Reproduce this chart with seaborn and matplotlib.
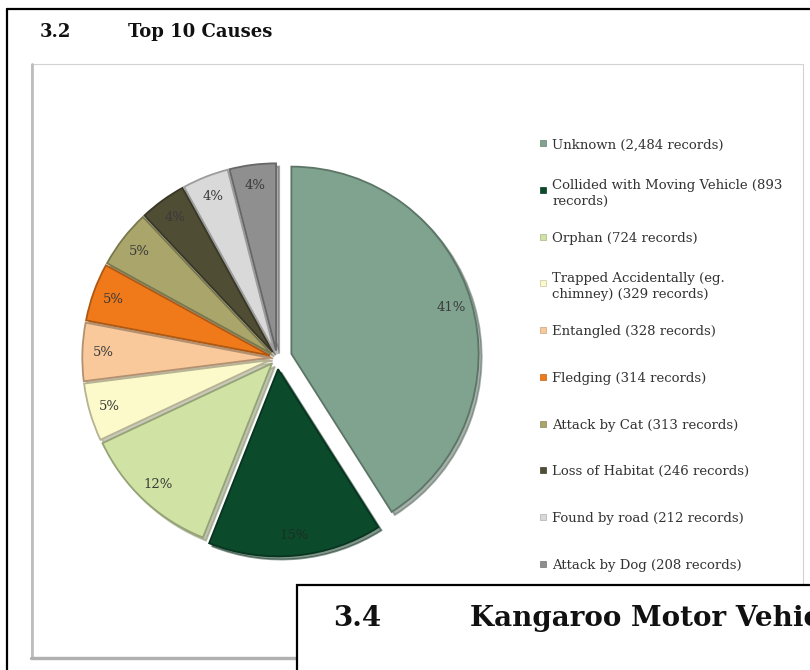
import textwrap

import matplotlib
matplotlib.use("Agg")
import matplotlib.pyplot as plt
import matplotlib.colors as mcolors
import seaborn as sns
from matplotlib.patches import Rectangle
from matplotlib.lines import Line2D

# ---- data -------------------------------------------------------------
causes = [
    "Unknown",
    "Collided with Moving Vehicle",
    "Orphan",
    "Trapped Accidentally (eg. chimney)",
    "Entangled",
    "Fledging",
    "Attack by Cat",
    "Loss of Habitat",
    "Found by road",
    "Attack by Dog",
]
records = [2484, 893, 724, 329, 328, 314, 313, 246, 212, 208]
share_pct = [41, 15, 12, 5, 5, 5, 5, 4, 4, 4]
slice_colors = [
    "#80a38f", "#0b4a2b", "#d0e2a4", "#fcf9cb", "#f9c99c",
    "#f07a1a", "#aaa66b", "#4f4d34", "#d9d9d9", "#8f8f8f",
]
explode = [0.08, 0.06, 0.04, 0.04, 0.04, 0.04, 0.04, 0.04, 0.04, 0.04]

section_no = "3.2"
section_title = "Top 10 Causes"
next_no = "3.4"
next_title = "Kangaroo Motor Vehicle"

# ---- style ------------------------------------------------------------
sns.set_theme(style="white")
plt.rcParams["font.family"] = ["DejaVu Serif", "DejaVu Sans"]

W, H = 810, 670
fig = plt.figure(figsize=(W / 100, H / 100), dpi=100)
fig.patch.set_facecolor("white")


def px_axes(left, top, width, height, **kw):
    """Add an axes given in pixel units measured from the top-left corner."""
    return fig.add_axes([left / W, 1 - (top + height) / H, width / W, height / H], **kw)


# page layer: frames and headings
page = px_axes(0, 0, W, H)
page.set_xlim(0, W)
page.set_ylim(H, 0)
page.axis("off")

page.add_line(Line2D([7, W + 5], [9, 9], color="black", lw=1.6))
page.add_line(Line2D([7, 7], [9, H + 5], color="black", lw=1.6))

page.add_patch(Rectangle((30.5, 64), 772.5, 593, facecolor="white",
                         edgecolor="#d2d2d2", lw=0.8))
page.add_line(Line2D([31.5, 31.5], [64, 658], color="#bdbdbd", lw=2.0))
page.add_line(Line2D([31, 803], [657.5, 657.5], color="#b0b0b0", lw=2.4))

page.text(40, 32, section_no, fontsize=13, fontweight="heavy",
          va="center", ha="left", color="#111111")
page.text(128, 32, section_title, fontsize=13, fontweight="heavy",
          va="center", ha="left", color="#111111")

# ---- pie --------------------------------------------------------------
cx, cy, R = 277, 358, 195
half = R * 1.2
ax = px_axes(cx - half, cy - half, 2 * half, 2 * half)
ax.set_xlim(-1.2, 1.2)
ax.set_ylim(-1.2, 1.2)
ax.set_aspect("equal")
ax.axis("off")

palette = sns.color_palette(slice_colors)
edge_cols = [tuple(c * 0.72 for c in mcolors.to_rgb(col)) for col in palette]

wedges, _, pct_texts = ax.pie(
    share_pct,
    colors=palette,
    explode=explode,
    startangle=90,
    counterclock=False,
    autopct=lambda p: f"{p:.0f}%",
    pctdistance=0.89,
    shadow={"ox": 0.012, "oy": -0.012, "shade": 0.4, "alpha": 0.5},
    wedgeprops={"linewidth": 1.3},
    textprops={"fontsize": 9.5, "color": "#3a3a3a"},
)
for w, ec in zip(wedges, edge_cols):
    w.set_edgecolor(ec)
# the label on the darkest slice sits in a slightly deeper tone
pct_texts[1].set_color("#1e2e24")

# ---- legend -----------------------------------------------------------
legend_labels = [textwrap.fill(f"{c} ({n:,} records)", width=33)
                 for c, n in zip(causes, records)]

leg = px_axes(536, 120, 264, 467)
leg.set_xlim(0, 1)
leg.set_ylim(len(causes), 0)
leg.axis("off")
for i, (lab, col) in enumerate(zip(legend_labels, palette)):
    leg.plot([0.028], [i + 0.5], marker="s", ms=4.3, color=col,
             mec=tuple(c * 0.8 for c in col), mew=0.5, ls="none")
    leg.text(0.062, i + 0.5, lab, fontsize=9.5, color="#333333",
             va="center_baseline", ha="left", linespacing=1.35)

# ---- next section box overlapping the page ----------------------------
over = px_axes(0, 0, W, H, zorder=10)
over.set_xlim(0, W)
over.set_ylim(H, 0)
over.axis("off")
over.patch.set_alpha(0)
over.add_patch(Rectangle((297, 585), W, 200, facecolor="white",
                         edgecolor="black", lw=1.6))
over.text(333, 618, next_no, fontsize=20, fontweight="heavy",
          va="center", ha="left", color="#111111")
over.text(470, 618, next_title, fontsize=20, fontweight="heavy",
          va="center", ha="left", color="#111111")

fig.savefig("out.png", dpi=100, facecolor="white")
